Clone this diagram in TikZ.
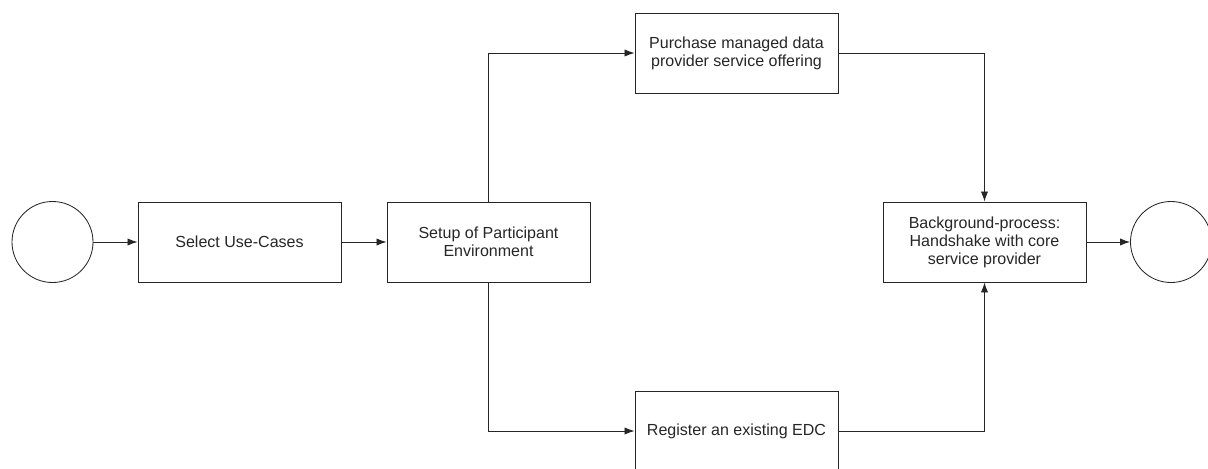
\documentclass[tikz,border=0pt]{standalone}
\usepackage{fontspec}
\setmainfont{Liberation Sans}
\usetikzlibrary{arrows.meta}

\tikzset{
    task/.style={draw, rectangle, minimum width=5.075cm, minimum height=2cm,
        align=center, font=\fontsize{11.4}{12.8}\selectfont, line width=0.6pt},
    event/.style={draw, circle, minimum size=2.025cm, line width=0.6pt},
    flow/.style={line width=0.6pt, -{Latex[length=2.5mm, width=1.8mm]}}
}

\begin{document}
\begin{tikzpicture}[x=0.025cm, y=-0.025cm, color=black!85]
            \useasboundingbox (0, 0) rectangle (1208, 468);

            \node[event] (start) at (52.5, 242) {};
            \node[task] (select) at (239.5, 242) {Select Use-Cases};
            \node[task] (setup) at (488.5, 242) {Setup of Participant\\Environment};
            \node[task] (purchase) at (736.5, 53) {Purchase managed data\\provider service offering};
            \node[task] (register) at (736.5, 431) {Register an existing EDC};
            \node[task] (handshake) at (984.5, 242) {Background-process:\\Handshake with core\\service provider};
            \node[event] (end) at (1171, 242) {};

            \draw[flow] (start) -- (select);
            \draw[flow] (select) -- (setup);
            \draw[flow] (setup.north) |- (purchase.west);
            \draw[flow] (setup.south) |- (register.west);
            \draw[flow] (purchase.east) -| (handshake.north);
            \draw[flow] (register.east) -| (handshake.south);
            \draw[flow] (handshake) -- (end);
        \end{tikzpicture}
\end{document}
